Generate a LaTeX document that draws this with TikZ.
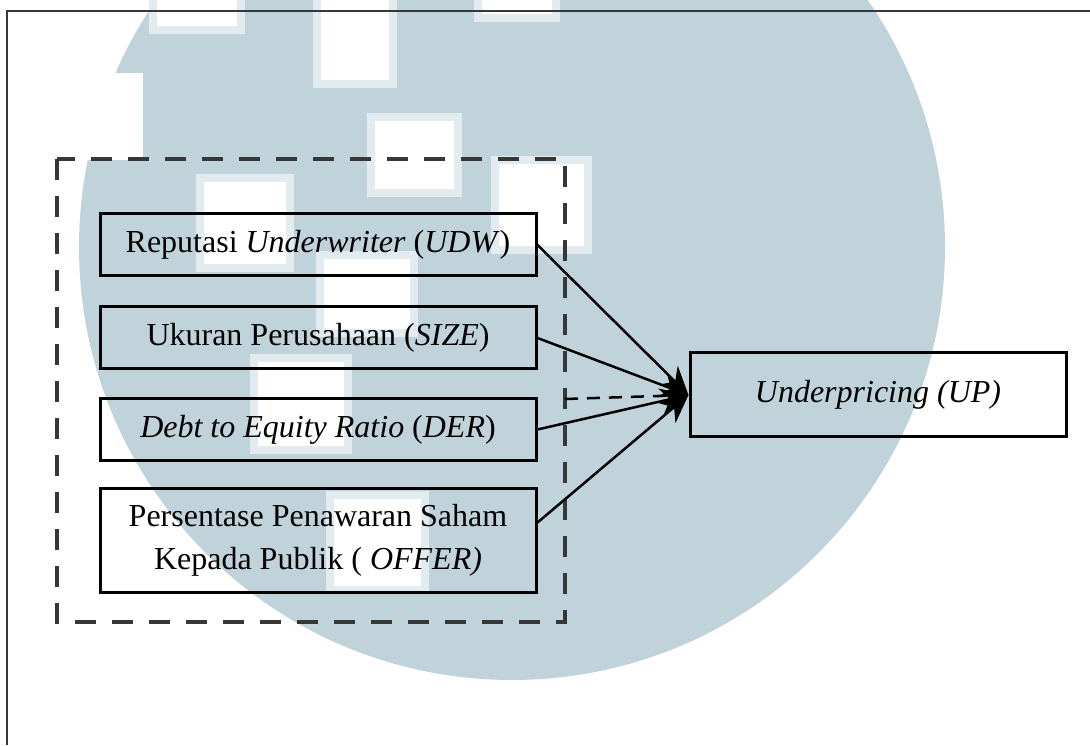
\documentclass[tikz,border=0pt]{standalone}
\usepackage{fontspec}
\setmainfont{Liberation Serif}
\usetikzlibrary{arrows.meta}
\definecolor{wmblue}{RGB}{193,211,218}
\definecolor{wmedge}{RGB}{226,236,240}
\definecolor{framegray}{RGB}{55,55,55}
\begin{document}
\begin{tikzpicture}[
  x=1pt, y=1pt,
  block/.style={rectangle, draw, line width=3pt, minimum width=436pt, minimum height=62pt, align=center, inner sep=0pt},
  link/.style={line width=2.5pt, -{Stealth[length=28pt,width=26pt]}},
  font=\fontsize{32}{43}\selectfont
]
\useasboundingbox (0,0) rectangle (1090,745);
% watermark in the background
\begin{scope}
\clip (0,0) rectangle (1090,745);
\fill[wmblue] (512,498) circle (433pt);
\fill[white] (60,585) rectangle (143,672);
\foreach \xa/\ya/\xb/\yb in {153/715/241/750, 317/661/393/750, 371/552/458/628,
  495/495/588/585, 200/477/290/567, 320/412/414/490, 254/295/348/387, 330/155/425/250, 478/727/556/750}
  \draw[wmedge, line width=8pt, fill=white] (\xa,\ya) rectangle (\xb,\yb);
\end{scope}
\draw[framegray, line width=2pt] (7,0) -- (7,734) -- (1090,734);
\draw[framegray, line width=4pt, dash pattern=on 21pt off 16pt] (57,586) rectangle (565,123);
\coordinate (grp) at (565,346);

\node[block] (udw) at (318,500) {Reputasi \textit{Underwriter} (\textit{UDW})};
\node[block, below of=udw, node distance=93pt] (size) {Ukuran Perusahaan (\textit{SIZE})};
\node[block, below of=size, node distance=91.5pt] (der) {\textit{Debt to Equity Ratio} (\textit{DER})};
\node[block, below of=der, node distance=111pt, minimum height=103pt] (offer) {Persentase Penawaran Saham\\Kepada Publik ( \textit{OFFER)}};
\node[block, minimum width=376pt, minimum height=84pt] (up) at (878,350) {\textit{Underpricing (UP)}};

\draw[link] (udw.east) -- (up.west);
\draw[link] (size.east) -- (up.west);
\draw[link] (der.east) -- (up.west);
\draw[link] ([yshift=18pt]offer.east) -- (up.west);
\draw[line width=2.5pt, dash pattern=on 13pt off 9pt, shorten >=20pt] (grp) -- (up.west);
\end{tikzpicture}
\end{document}
